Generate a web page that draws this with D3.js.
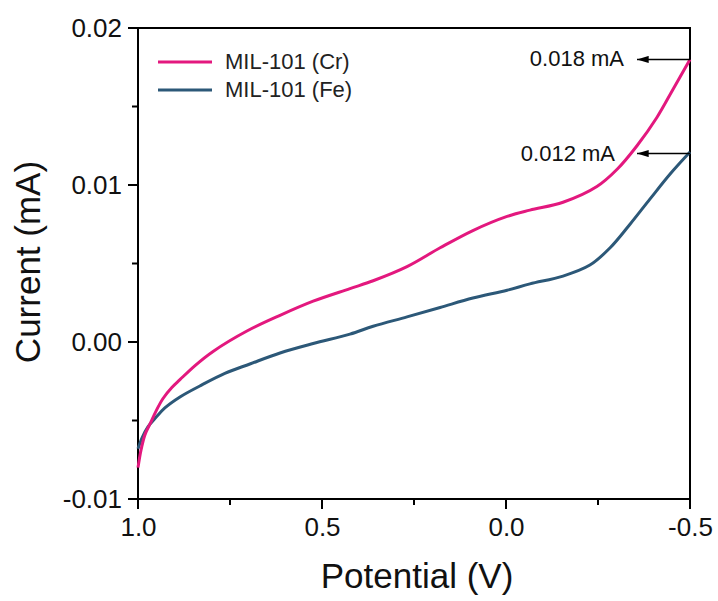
<!DOCTYPE html>
<html>
<head>
<meta charset="utf-8">
<script src="https://cdn.jsdelivr.net/npm/d3@7"></script>
<style>
  body { margin: 0; background: #fff; }
  svg { display: block; font-family: "Liberation Sans", Arial, sans-serif; }
</style>
</head>
<body>
<div id="chart"></div>
<script>
// Potential (V) vs current (mA)
var crPotential = [1.0, 0.992, 0.981, 0.967, 0.951, 0.932, 0.908, 0.886, 0.845, 0.796, 0.704, 0.614, 0.524, 0.424, 0.361, 0.269, 0.179, 0.09, -0.003, -0.065, -0.155, -0.247, -0.302, -0.356, -0.41, -0.454, -0.5];
var crCurrent   = [-0.0080, -0.0069, -0.0059, -0.0052, -0.0044, -0.0036, -0.0029, -0.0024, -0.0015, -0.0006, 0.0007, 0.0017, 0.0026, 0.0034, 0.0039, 0.0048, 0.0060, 0.0071, 0.0080, 0.0084, 0.0089, 0.0099, 0.0110, 0.0125, 0.0143, 0.0161, 0.0180];

var fePotential = [1.0, 0.989, 0.973, 0.951, 0.927, 0.886, 0.832, 0.764, 0.696, 0.614, 0.524, 0.424, 0.361, 0.269, 0.179, 0.09, -0.003, -0.065, -0.155, -0.228, -0.283, -0.337, -0.391, -0.446, -0.5];
var feCurrent   = [-0.0068, -0.0061, -0.0054, -0.0048, -0.0042, -0.0035, -0.0028, -0.0020, -0.0014, -0.0007, -0.0001, 0.0005, 0.0010, 0.0016, 0.0022, 0.0028, 0.0033, 0.0037, 0.0042, 0.0049, 0.0060, 0.0075, 0.0091, 0.0107, 0.0121];

var seriesNames  = ["MIL-101 (Cr)", "MIL-101 (Fe)"];
var seriesColors = ["#e3187e", "#2c5878"];

var xTicks = [1.0, 0.5, 0.0, -0.5];
var xTickLabels = ["1.0", "0.5", "0.0", "-0.5"];
var xMinorTicks = [0.75, 0.25, -0.25];
var yTicks = [-0.01, 0.00, 0.01, 0.02];
var yTickLabels = ["-0.01", "0.00", "0.01", "0.02"];
var yMinorTicks = [-0.005, 0.005, 0.015];

var annotationValues = [0.018, 0.012];
var annotationLabels = ["0.018 mA", "0.012 mA"];

(function () {
    "use strict";

    var W = 718, H = 601;
    var margin = { top: 28, right: 28, bottom: 102, left: 138 };
    var width = W - margin.left - margin.right;
    var height = H - margin.top - margin.bottom;

    var svg = d3.select("#chart").append("svg")
        .attr("width", W)
        .attr("height", H)
        .append("g")
        .attr("transform", "translate(" + margin.left + "," + margin.top + ")");

    var x = d3.scaleLinear().domain([1.0, -0.5]).range([0, width]);
    var y = d3.scaleLinear().domain([-0.01, 0.02]).range([height, 0]);

    // Frame
    svg.append("rect")
        .attr("width", width).attr("height", height)
        .attr("fill", "none").attr("stroke", "#000").attr("stroke-width", 2);

    // Curves
    var series = [
        crPotential.map(function (v, i) { return { v: v, c: crCurrent[i] }; }),
        fePotential.map(function (v, i) { return { v: v, c: feCurrent[i] }; })
    ];

    var line = d3.line()
        .x(function (d) { return x(d.v); })
        .y(function (d) { return y(d.c); })
        .curve(d3.curveCatmullRom.alpha(0.5));

    // draw Fe first so Cr sits on top at the left end
    [1, 0].forEach(function (k) {
        svg.append("path")
            .datum(series[k])
            .attr("d", line)
            .attr("fill", "none")
            .attr("stroke", seriesColors[k])
            .attr("stroke-width", 3)
            .attr("stroke-linejoin", "round");
    });

    // Axis labels via d3.axis (no lines), tick marks drawn explicitly
    var xAxis = svg.append("g")
        .attr("class", "axis")
        .attr("transform", "translate(0," + height + ")")
        .call(d3.axisBottom(x).tickValues(xTicks).tickSize(0).tickPadding(15)
            .tickFormat(function (d, i) { return xTickLabels[i]; }));

    svg.append("g")
        .attr("class", "axis")
        .call(d3.axisLeft(y).tickValues(yTicks).tickSize(0).tickPadding(16)
            .tickFormat(function (d, i) { return yTickLabels[i]; }));

    svg.selectAll(".axis .domain").remove();
    svg.selectAll(".axis .tick text")
        .attr("fill", "#111")
        .attr("font-size", "26px")
        .attr("font-family", "Liberation Sans, Arial, sans-serif");
    xAxis.selectAll(".tick text").attr("dy", "0.85em");

    var ticks = svg.append("g").attr("class", "tick-marks")
        .attr("stroke", "#000").attr("stroke-width", 2);

    ticks.selectAll(".xmaj").data(xTicks).enter().append("line")
        .attr("x1", function (d) { return x(d); }).attr("x2", function (d) { return x(d); })
        .attr("y1", height).attr("y2", height + 10);
    ticks.selectAll(".xmin").data(xMinorTicks).enter().append("line")
        .attr("x1", function (d) { return x(d); }).attr("x2", function (d) { return x(d); })
        .attr("y1", height).attr("y2", height + 6);
    ticks.selectAll(".ymaj").data(yTicks).enter().append("line")
        .attr("y1", function (d) { return y(d); }).attr("y2", function (d) { return y(d); })
        .attr("x1", 0).attr("x2", -10);
    ticks.selectAll(".ymin").data(yMinorTicks).enter().append("line")
        .attr("y1", function (d) { return y(d); }).attr("y2", function (d) { return y(d); })
        .attr("x1", 0).attr("x2", -6);

    // Axis titles
    svg.append("text")
        .attr("x", width / 2 + 3)
        .attr("y", height + 89)
        .attr("text-anchor", "middle")
        .attr("font-size", "35px")
        .attr("fill", "#111")
        .text("Potential (V)");

    svg.append("text")
        .attr("transform", "translate(" + (40 - margin.left) + "," + (262 - margin.top) + ") rotate(-90)")
        .attr("text-anchor", "middle")
        .attr("font-size", "35px")
        .attr("fill", "#111")
        .text("Current (mA)");

    // Legend
    var legend = svg.append("g").attr("transform", "translate(20,34)");
    seriesNames.forEach(function (name, i) {
        var g = legend.append("g").attr("transform", "translate(0," + (i * 28) + ")");
        g.append("line")
            .attr("x1", 0).attr("x2", 54)
            .attr("stroke", seriesColors[i]).attr("stroke-width", 3);
        g.append("text")
            .attr("x", 67).attr("y", 7)
            .attr("font-size", "22px")
            .attr("fill", "#222")
            .text(name);
    });

    // Arrow annotations at the end points
    svg.append("defs").append("marker")
        .attr("id", "arrowhead")
        .attr("viewBox", "0 0 10 6")
        .attr("refX", 10).attr("refY", 3)
        .attr("markerWidth", 16).attr("markerHeight", 7)
        .attr("markerUnits", "userSpaceOnUse")
        .attr("orient", "auto")
        .append("path")
        .attr("d", "M0,0 L10,3 L0,6 Z")
        .attr("fill", "#000");

    var textRight = [624, 615];
    annotationValues.forEach(function (val, i) {
        var yy = y(val);
        svg.append("line")
            .attr("x1", x(-0.5)).attr("y1", yy)
            .attr("x2", 637 - margin.left).attr("y2", yy)
            .attr("stroke", "#000").attr("stroke-width", 1.5)
            .attr("marker-end", "url(#arrowhead)");
        svg.append("text")
            .attr("x", textRight[i] - margin.left)
            .attr("y", yy + 7)
            .attr("text-anchor", "end")
            .attr("font-size", "22px")
            .attr("fill", "#111")
            .text(annotationLabels[i]);
    });
})();
</script>
</body>
</html>
